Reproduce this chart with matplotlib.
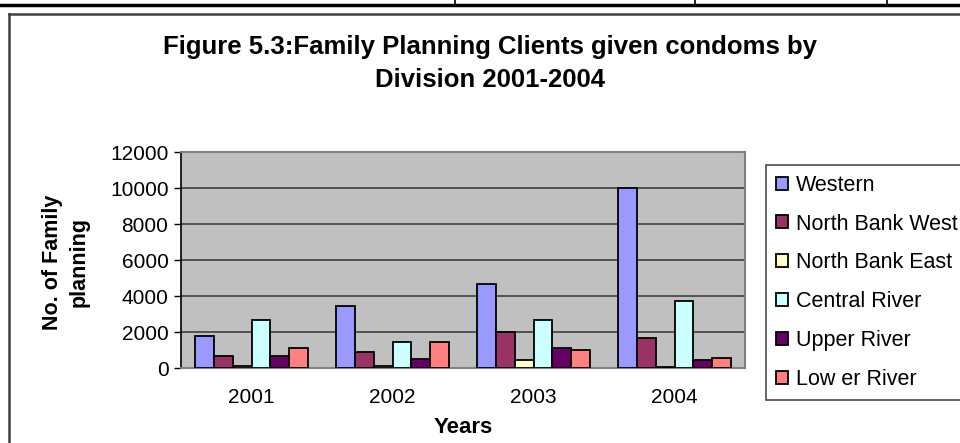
import numpy as np
import matplotlib.pyplot as plt
from matplotlib.lines import Line2D

plt.rcParams['font.family'] = ['Liberation Sans', 'DejaVu Sans']

years = ["2001", "2002", "2003", "2004"]
divisions = ["Western", "North Bank West", "North Bank East",
             "Central River", "Upper River", "Low er River"]
western = [1800, 3450, 4650, 10000]
north_bank_west = [650, 900, 2000, 1650]
north_bank_east = [100, 100, 450, 80]
central_river = [2650, 1450, 2650, 3750]
upper_river = [650, 480, 1100, 450]
lower_river = [1100, 1450, 1000, 575]
colors = ["#9999FF", "#993366", "#FFFFCC", "#CCFFFF", "#660066", "#FF8080"]

series = [western, north_bank_west, north_bank_east, central_river, upper_river, lower_river]

fig = plt.figure(figsize=(9.6, 4.43), dpi=100)
W, H = 960, 443

# page rule and table cells above the chart
fig.add_artist(Line2D([0, 1], [1 - 4.5 / H, 1 - 4.5 / H], color="black", lw=2.5))
for xp in [455, 695, 887]:
    fig.add_artist(Line2D([xp / W, xp / W], [1, 1 - 4.5 / H], color="black", lw=1.2))

# chart area border
fig.add_artist(Line2D([8.5 / W, 8.5 / W], [0, 1 - 14 / H], color="#404040", lw=1.8))
fig.add_artist(Line2D([8.5 / W, 1], [1 - 14 / H, 1 - 14 / H], color="#404040", lw=1.8))

ax = fig.add_axes([181 / W, 75 / H, 564 / W, 216 / H])
ax.set_facecolor("#C0C0C0")

x = np.arange(len(years))
width = 1 / 7.5
for i, (vals, name, c) in enumerate(zip(series, divisions, colors)):
    ax.bar(x + (i - 2.5) * width, vals, width, color=c, edgecolor="black",
           linewidth=1.3, label=name, zorder=3)

ax.set_xlim(-0.5, 3.5)
ax.set_ylim(0, 12000)
ax.set_yticks(range(0, 12001, 2000))
ax.set_xticks(x)
ax.set_xticklabels(years)
ax.yaxis.grid(True, color="#404040", lw=1.2, zorder=1)
ax.set_axisbelow(True)
ax.tick_params(axis="x", length=0, labelsize=15, pad=14.5)
ax.tick_params(axis="y", length=5, width=1, labelsize=15, pad=4)
for side in ["top", "right", "bottom"]:
    ax.spines[side].set_color("#808080")
    ax.spines[side].set_linewidth(1.5)
ax.spines["left"].set_color("black")
ax.spines["left"].set_linewidth(1.2)

ax.set_xlabel("Years", fontsize=16, fontweight="bold")
ax.xaxis.set_label_coords(0.5, -(417 - 368) / 216)
ax.set_ylabel("No. of Family\nplanning", fontsize=15.5, fontweight="bold",
              linespacing=1.35)
ax.yaxis.set_label_coords(-(181 - 90) / 564, 0.49)

fig.text(490 / W, 1 - 47 / H, "Figure 5.3:Family Planning Clients given condoms by",
         ha="center", va="center", fontsize=18.5, fontweight="bold")
fig.text(490 / W, 1 - 80 / H, "Division 2001-2004",
         ha="center", va="center", fontsize=18.5, fontweight="bold")

leg = fig.legend(loc="upper left", bbox_to_anchor=(766 / W, 1 - 165 / H),
                 fontsize=15.5, frameon=True, fancybox=False, edgecolor="#202020",
                 handlelength=0.55, handleheight=0.55, handletextpad=0.4,
                 labelspacing=0.83, borderpad=0.45, borderaxespad=0)
leg.get_frame().set_linewidth(1.2)

fig.savefig("out.png", dpi=100)
